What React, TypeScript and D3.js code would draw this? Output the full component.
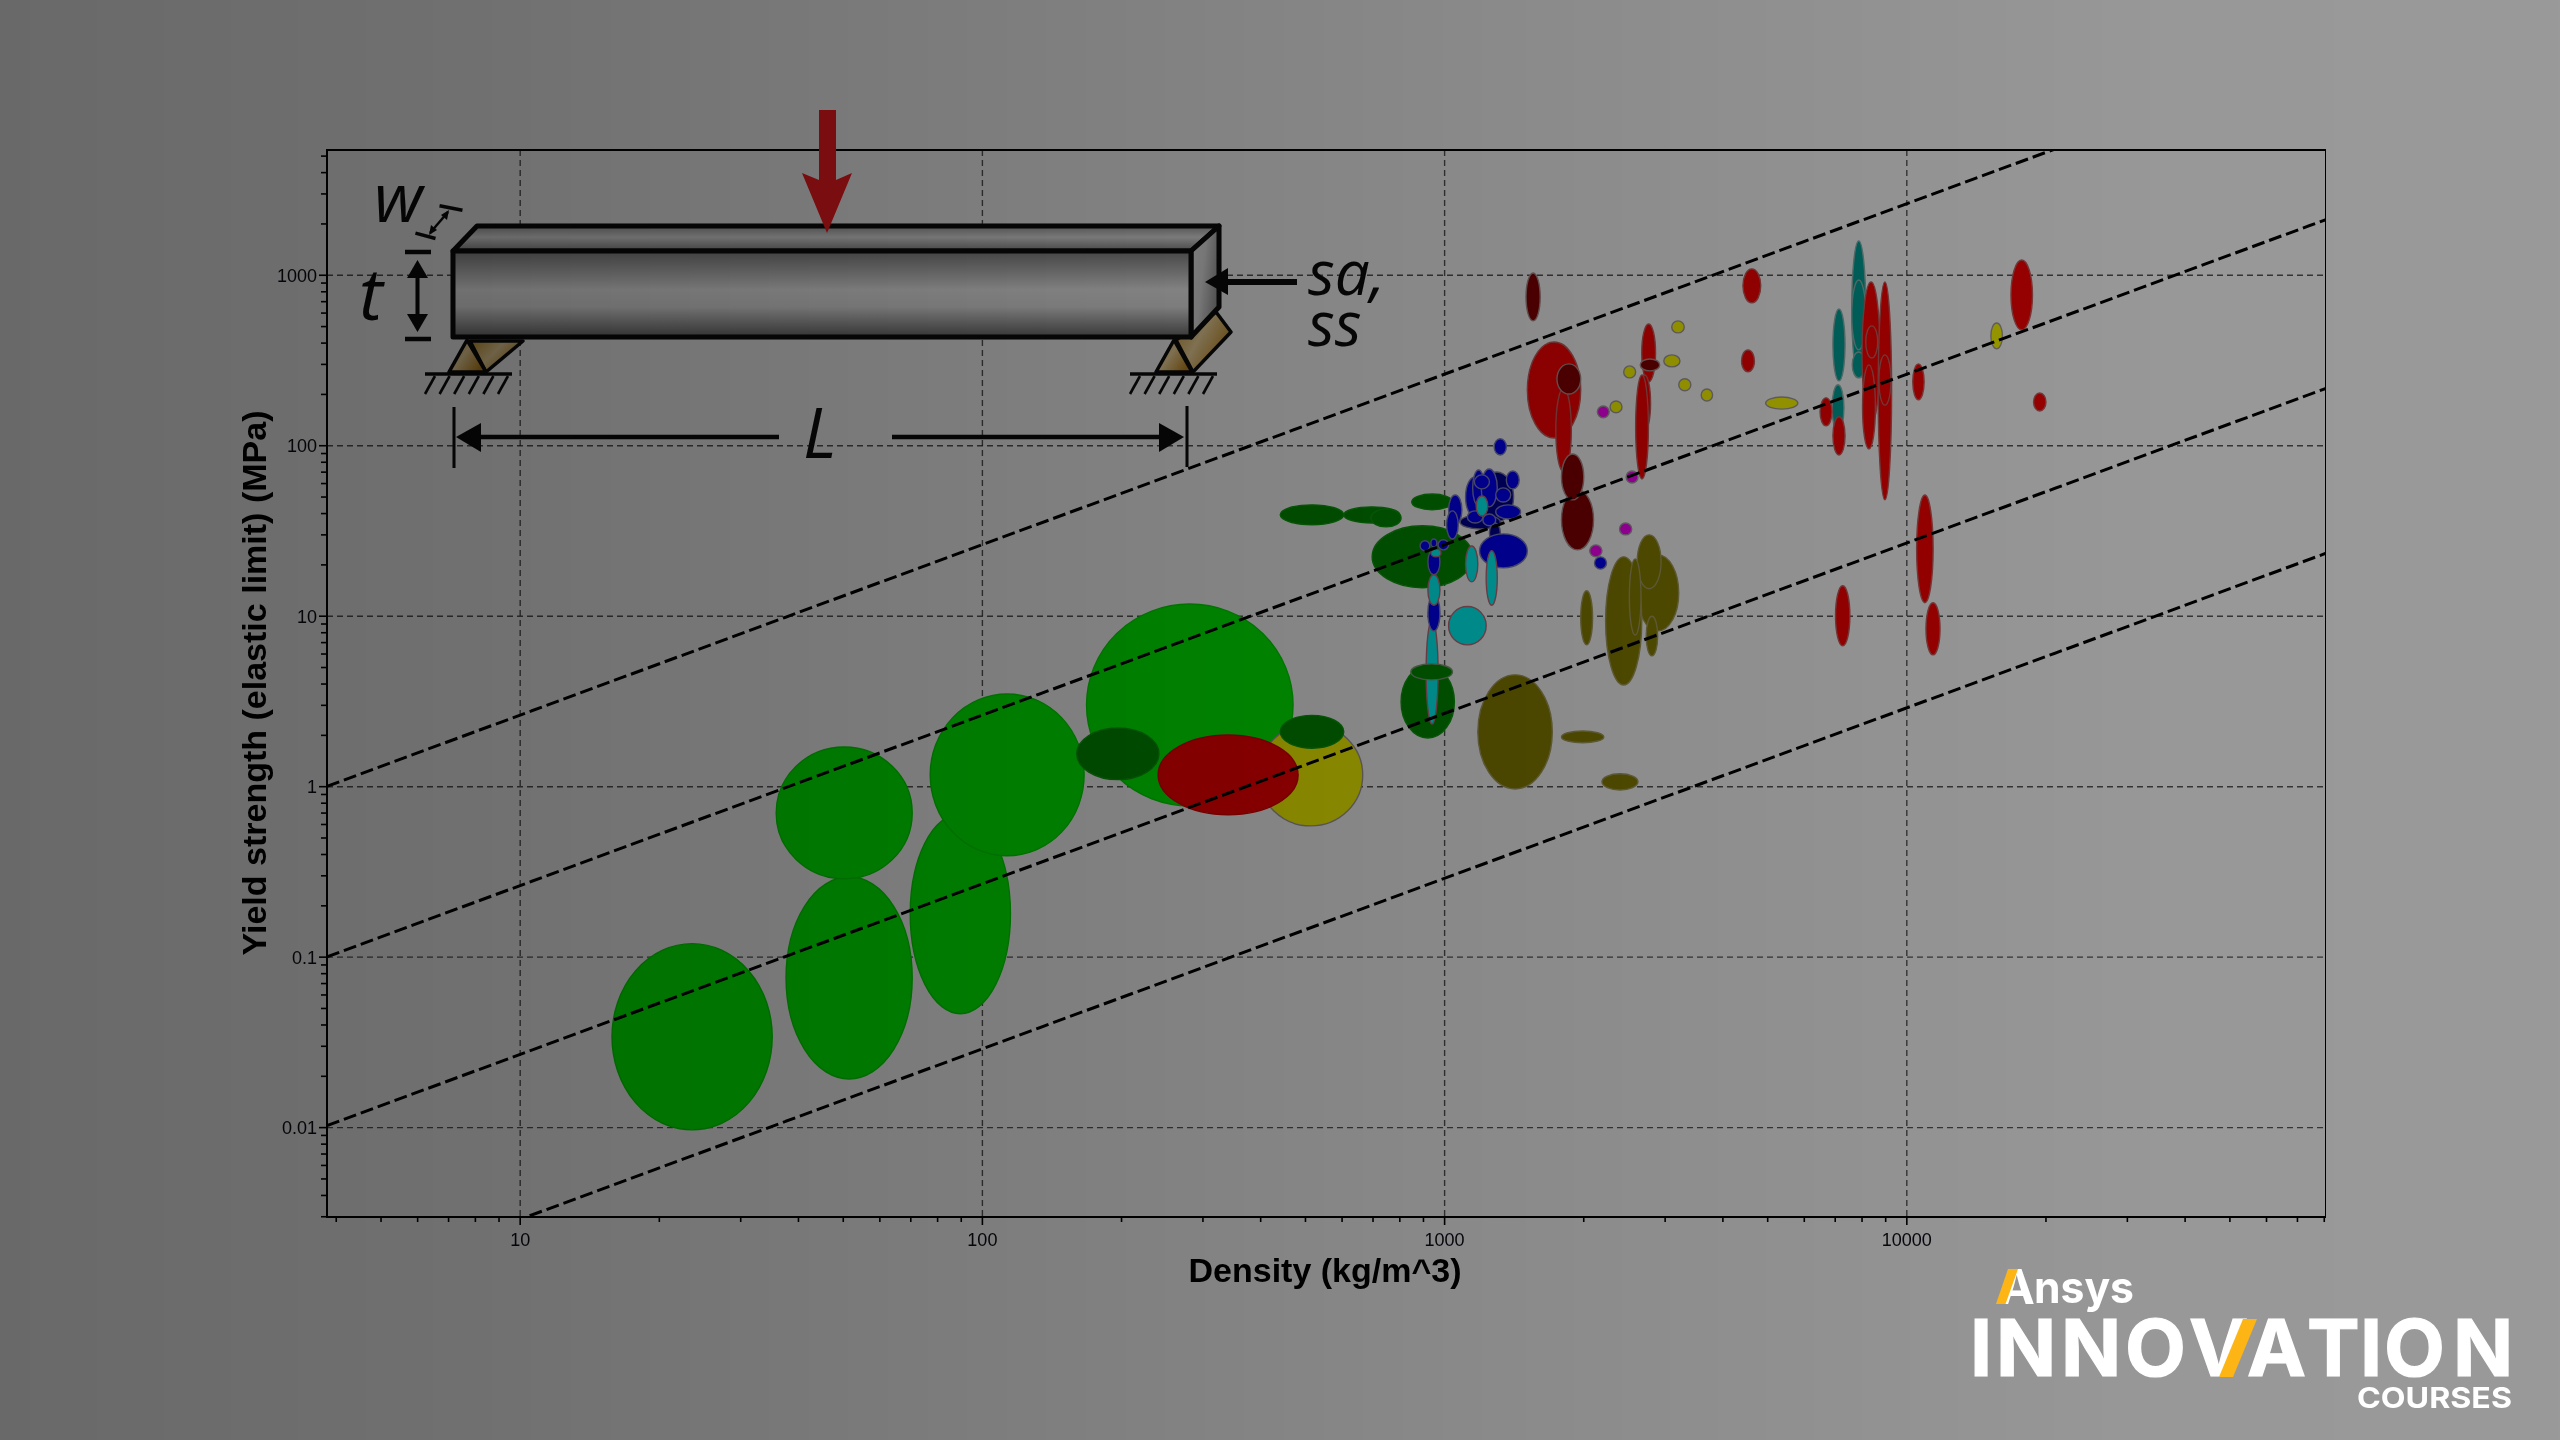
import React from "react";
import * as d3 from "d3";

// Each row: density low, density high (kg/m^3), yield strength low, high (MPa)
type Row = [number, number, number, number];

const foamsLight: Row[] = [
  [15.8, 35.1, 0.0097, 0.12],
  [37.6, 70.5, 0.0193, 0.296],
  [35.8, 70.5, 0.288, 1.71],
  [69.8, 115, 0.0466, 0.693],
  [77.1, 166, 0.393, 3.5],
  [168, 470, 0.771, 11.8],
];
const yellowLarge: Row[] = [[396, 665, 0.589, 2.33]];
const darkGreen: Row[] = [
  [160, 241, 1.1, 2.21],
  [441, 605, 1.68, 2.62],
  [441, 605, 34.4, 45],
  [605, 800, 35.2, 43.8],
  [693, 805, 33.4, 42.6],
  [849, 1040, 42.1, 52.1],
  [697, 1150, 14.7, 33.9],
  [805, 1050, 1.93, 5.12],
];
const redLarge: Row[] = [[240, 482, 0.684, 2.01]];
const olive: Row[] = [
  [1180, 1710, 0.97, 4.53],
  [1790, 2210, 1.81, 2.12],
  [2190, 2620, 0.957, 1.19],
  [1970, 2090, 6.79, 14.1],
  [2610, 3210, 8.2, 22.9],
  [2230, 2670, 3.95, 22.3],
  [2610, 2940, 14.5, 30],
  [2510, 2660, 7.76, 21.7],
  [2730, 2890, 5.85, 10],
];
const cyanLong: Row[] = [[912, 968, 2.33, 9.51]];
const darkGreenTop: Row[] = [[845, 1040, 4.23, 5.25]];
const navy: Row[] = [
  [1190, 1410, 35.7, 70.2],
  [1080, 1320, 32.5, 39.3],
  [1250, 1320, 26.9, 35.2],
];
const blue: Row[] = [
  [1110, 1220, 38.2, 65.6],
  [1150, 1220, 44.4, 72.1],
  [1200, 1300, 43.8, 73.1],
  [1160, 1250, 55.8, 67.5],
  [1360, 1450, 55.8, 71.1],
  [1290, 1390, 46.8, 56.6],
  [1290, 1460, 37.2, 45],
  [1120, 1210, 35.2, 41.5],
  [1210, 1290, 33.9, 39.8],
  [1020, 1090, 34.4, 51.4],
  [1010, 1070, 28.4, 41.5],
  [1190, 1510, 19.2, 30.4],
  [1280, 1360, 88.3, 110],
  [2110, 2240, 18.9, 22.3],
  [920, 977, 8.2, 13.3],
  [920, 977, 17.5, 24.8],
  [885, 929, 24.2, 27.7],
  [968, 1020, 24.5, 28.1],
  [934, 962, 25.5, 28.4],
];
const cyan: Row[] = [
  [1020, 1230, 6.79, 11.4],
  [920, 977, 11.6, 17.5],
  [1110, 1180, 15.9, 25.8],
  [1230, 1300, 11.6, 24.2],
  [1170, 1240, 38.7, 50.8],
  [934, 982, 22.3, 24.8],
];
const teal: Row[] = [
  [7600, 8150, 254, 1590],
  [7600, 8150, 365, 938],
  [7620, 8130, 250, 355],
  [6920, 7350, 240, 634],
  [6890, 7310, 122, 228],
];
const red: Row[] = [
  [1510, 1970, 111, 406],
  [1740, 1880, 70.2, 218],
  [2670, 2860, 237, 518],
  [2630, 2790, 122, 260],
  [2590, 2760, 63.8, 260],
  [4420, 4830, 689, 1090],
  [4390, 4680, 271, 365],
  [6490, 6890, 131, 191],
  [6920, 7350, 88.3, 148],
  [8000, 8750, 134, 914],
  [8020, 8550, 95.7, 298],
  [8150, 8650, 327, 505],
  [8670, 9270, 48.1, 914],
  [8700, 9240, 173, 341],
  [10300, 10900, 186, 302],
  [16800, 18700, 478, 1230],
  [18800, 20000, 160, 204],
  [10500, 11400, 12, 51.4],
  [7010, 7530, 6.7, 15.1],
  [11000, 11800, 5.93, 12],
];
const maroon: Row[] = [
  [1500, 1610, 540, 1030],
  [1750, 1970, 201, 302],
  [1790, 2100, 24.5, 55.1],
  [1790, 2000, 48.1, 89.5],
  [2650, 2920, 275, 323],
];
const yellowSmall: Row[] = [
  [3100, 3300, 459, 540],
  [2980, 3230, 290, 341],
  [2440, 2590, 250, 294],
  [3210, 3410, 210, 247],
  [3590, 3800, 183, 215],
  [2280, 2420, 156, 183],
  [4950, 5810, 164, 193],
  [15200, 16100, 370, 525],
];
const magenta: Row[] = [
  [2390, 2540, 30, 35.2],
  [2060, 2190, 22.3, 26.2],
  [2470, 2620, 60.5, 71.1],
  [2140, 2270, 146, 171],
];

// Performance-index guidelines: yield = c * density
const guideCoefficients = [0.263, 0.0263, 0.00269, 0.00029];

const xTickLabels = [10, 100, 1000, 10000];
const yTickLabels = [1000, 100, 10, 1, 0.1, 0.01];

const layers: { rows: Row[]; fill: string; stroke: string }[] = [
  { rows: foamsLight, fill: "#00fa00", stroke: "#00e000" },
  { rows: yellowLarge, fill: "#ffff00", stroke: "#a8a0a0" },
  { rows: darkGreen, fill: "#009000", stroke: "#10a010" },
  { rows: redLarge, fill: "#ff0000", stroke: "#e00000" },
  { rows: olive, fill: "#8a8200", stroke: "#a8a060" },
  { rows: cyanLong, fill: "#00ffff", stroke: "#c07080" },
  { rows: darkGreenTop, fill: "#009000", stroke: "#80a080" },
  { rows: navy, fill: "#00009a", stroke: "#8080a0" },
  { rows: blue, fill: "#0000ff", stroke: "#8080c0" },
  { rows: cyan, fill: "#00ffff", stroke: "#c07080" },
  { rows: teal, fill: "#00a298", stroke: "#90b8b4" },
  { rows: red, fill: "#ff0000", stroke: "#c86060" },
  { rows: maroon, fill: "#880000", stroke: "#b09090" },
  { rows: yellowSmall, fill: "#ffff00", stroke: "#a8a0a0" },
  { rows: magenta, fill: "#ff00ff", stroke: "#a8a0a8" },
];

const W = 2560;
const H = 1440;
const plot = { left: 327, right: 2326, top: 150, bottom: 1217 };

const x = d3.scaleLog().domain([3.82, 80700]).range([plot.left, plot.right]);
const y = d3.scaleLog().domain([0.00299, 5430]).range([plot.bottom, plot.top]);

const xMinor = x.ticks().filter((t) => !xTickLabels.includes(t));
const yMinor = y.ticks().filter((t) => !yTickLabels.some((l) => Math.abs(l - t) < l * 1e-6));

const guide = d3
  .line<[number, number]>()
  .x((d) => x(d[0]))
  .y((d) => y(d[1]));

const SANS = '"Liberation Sans", Arial, sans-serif';
const HAND = '"Open Sans", "Noto Sans", sans-serif';
const LOGO = 'Inter, "Open Sans", sans-serif';
const INK = "#0c0c0c";

function Hatch({ x0 }: { x0: number }) {
  return (
    <g stroke={INK} strokeWidth={2.6}>
      <line x1={x0} x2={x0 + 87} y1={374} y2={374} strokeWidth={3.5} />
      {[0, 1, 2, 3, 4, 5].map((i) => (
        <line key={i} x1={x0 + 4 + i * 14.6 + 6} y1={376} x2={x0 + 4 + i * 14.6 - 4} y2={394} />
      ))}
    </g>
  );
}

function Beam() {
  return (
    <g>
      {/* left support */}
      <polygon points="470,341 523,341 486,372" fill="url(#tan)" stroke={INK} strokeWidth={3.5} strokeLinejoin="round" />
      <polygon points="467,340 449,372 486,372" fill="url(#tan)" stroke={INK} strokeWidth={3.5} strokeLinejoin="round" />
      <Hatch x0={425} />
      {/* right support */}
      <polygon points="1216,312 1231,332 1193,372 1176,340" fill="url(#tan)" stroke={INK} strokeWidth={3.5} strokeLinejoin="round" />
      <polygon points="1174,340 1156,372 1192,372" fill="url(#tan)" stroke={INK} strokeWidth={3.5} strokeLinejoin="round" />
      <Hatch x0={1130} />
      {/* beam faces */}
      <polygon points="453,251 477,226 1219,226 1191,251" fill="url(#beamTop)" stroke={INK} strokeWidth={5} strokeLinejoin="round" />
      <polygon points="1191,251 1219,226 1219,307 1191,337" fill="url(#beamSide)" stroke={INK} strokeWidth={5} strokeLinejoin="round" />
      <rect x={453} y={251} width={738} height={86} fill="url(#beamFront)" stroke={INK} strokeWidth={5} strokeLinejoin="round" />
      {/* load arrow */}
      <polygon points="819,110 836,110 836,180 852,173 827,233 802,173 819,180" fill="#ff1a20" />
      {/* side arrow */}
      <polygon points="1205,282 1228,268 1228,279 1297,279 1297,285 1228,285 1228,295" fill={INK} />
      {/* w dimension */}
      <g stroke={INK} fill="none">
        <line x1={441} y1={202} x2={461} y2={214} strokeWidth={3.5} transform="rotate(-20 451 208)" />
        <line x1={417} y1={230} x2={434} y2={242} strokeWidth={3.5} transform="rotate(-20 425 236)" />
        <line x1={448} y1={212} x2={430} y2={233} strokeWidth={2.5} />
      </g>
      <polygon points="449,210 447,220 441,215" fill={INK} />
      <polygon points="429,235 431,225 437,230" fill={INK} />
      {/* t dimension */}
      <g stroke={INK}>
        <line x1={405} x2={431} y1={252} y2={252} strokeWidth={4.5} />
        <line x1={405} x2={431} y1={339} y2={339} strokeWidth={4.5} />
        <line x1={417.5} x2={417.5} y1={270} y2={322} strokeWidth={4} />
      </g>
      <polygon points="417.5,260 428,278 407,278" fill={INK} />
      <polygon points="417.5,332 428,314 407,314" fill={INK} />
      {/* L dimension */}
      <g stroke={INK}>
        <line x1={454} x2={454} y1={407} y2={468} strokeWidth={3} />
        <line x1={1187} x2={1187} y1={406} y2={467} strokeWidth={3} />
        <line x1={478} x2={779} y1={437} y2={437} strokeWidth={4.5} />
        <line x1={892} x2={1162} y1={437} y2={437} strokeWidth={4.5} />
      </g>
      <polygon points="456,437 481,423 481,452" fill={INK} />
      <polygon points="1184,437 1159,423 1159,452" fill={INK} />
      <g fontFamily={HAND} fontStyle="italic" fill={INK}>
        <text x={374} y={222} fontSize={68}>w</text>
        <text x={359} y={320} fontSize={72}>t</text>
        <text x={803} y={458} fontSize={70}>L</text>
        <text x={1308} y={295} fontSize={62}>sa,</text>
        <text x={1308} y={346} fontSize={62}>ss</text>
      </g>
    </g>
  );
}

function Logo() {
  return (
    <g fontFamily={LOGO} fill="#ffffff">
      <text x={1999} y={1304} fontSize={48} fontWeight={700}>A</text>
      <text x={2034} y={1303} fontSize={44} fontWeight={700} textLength={100} lengthAdjust="spacingAndGlyphs">nsys</text>
      <polygon points="1996,1304 2005.5,1304 2018,1269 2008,1269" fill="#fdb515" />
      <text
        y={1376}
        fontSize={79}
        fontWeight={700}
        stroke="#ffffff"
        strokeWidth={1.2}
        x="1970 1996 2061 2125 2189 2247 2307 2360 2384 2453"
      >INNOVATION</text>
      <polygon points="2219,1377 2233,1377 2257,1319 2243,1319" fill="#fdb515" />
      <text x={2357} y={1408} fontSize={29} fontWeight={700} textLength={155} lengthAdjust="spacingAndGlyphs">COURSES</text>
    </g>
  );
}

export default function App() {
  return (
    <svg
      width={W}
      height={H}
      viewBox={`0 0 ${W} ${H}`}
      style={{ position: "fixed", left: 0, top: 0, display: "block" }}
    >
      <defs>
        <linearGradient id="veil" x1="0" x2="1" y1="0" y2="0">
          <stop offset="0" stopColor="#000" stopOpacity={0.588} />
          <stop offset="0.1875" stopColor="#000" stopOpacity={0.56} />
          <stop offset="0.586" stopColor="#000" stopOpacity={0.459} />
          <stop offset="0.844" stopColor="#000" stopOpacity={0.405} />
          <stop offset="1" stopColor="#000" stopOpacity={0.398} />
        </linearGradient>
        <linearGradient id="beamFront" x1="0" x2="0" y1="0" y2="1">
          <stop offset="0" stopColor="#8c8c8c" />
          <stop offset="0.45" stopColor="#ffffff" />
          <stop offset="0.65" stopColor="#f4f4f4" />
          <stop offset="1" stopColor="#707070" />
        </linearGradient>
        <linearGradient id="beamTop" x1="0" x2="0" y1="0" y2="1">
          <stop offset="0" stopColor="#a8a8a8" />
          <stop offset="0.45" stopColor="#f0f0f0" />
          <stop offset="1" stopColor="#909090" />
        </linearGradient>
        <linearGradient id="beamSide" x1="0" x2="1" y1="0" y2="0.4">
          <stop offset="0" stopColor="#f8f8f8" />
          <stop offset="0.5" stopColor="#e8e8e8" />
          <stop offset="1" stopColor="#a0a0a0" />
        </linearGradient>
        <linearGradient id="tan" x1="0" x2="1" y1="0" y2="0.6">
          <stop offset="0" stopColor="#d09a30" />
          <stop offset="0.5" stopColor="#f8dca0" />
          <stop offset="1" stopColor="#c48a20" />
        </linearGradient>
        <clipPath id="plotClip">
          <rect x={plot.left} y={plot.top} width={plot.right - plot.left} height={plot.bottom - plot.top} />
        </clipPath>
        <filter id="soft" x="0" y="0" width="100%" height="100%" filterUnits="objectBoundingBox">
          <feGaussianBlur stdDeviation={0.55} />
        </filter>
      </defs>

      <rect x={0} y={0} width={W} height={H} fill="#ffffff" />

      <g filter="url(#soft)">
        {/* grid */}
        <g stroke="#222" strokeOpacity={0.75} strokeWidth={1.4} strokeDasharray="6 4">
          {xTickLabels.map((t) => (
            <line key={t} x1={x(t)} x2={x(t)} y1={plot.top} y2={plot.bottom} />
          ))}
          {yTickLabels.map((t) => (
            <line key={t} x1={plot.left} x2={plot.right} y1={y(t)} y2={y(t)} />
          ))}
        </g>

        {/* material bubbles */}
        <g clipPath="url(#plotClip)">
          {layers.map((layer, i) => (
            <g key={i} fill={layer.fill} stroke={layer.stroke} strokeWidth={1.4}>
              {layer.rows.map((r, j) => {
                const [x0, x1, y0, y1] = [x(r[0]), x(r[1]), y(r[2]), y(r[3])];
                return (
                  <ellipse
                    key={j}
                    cx={(x0 + x1) / 2}
                    cy={(y0 + y1) / 2}
                    rx={(x1 - x0) / 2}
                    ry={(y0 - y1) / 2}
                  />
                );
              })}
            </g>
          ))}

          {/* guidelines */}
          <g fill="none" stroke="#000" strokeWidth={3} strokeDasharray="13 5">
            {guideCoefficients.map((c) => (
              <path
                key={c}
                d={guide([
                  [x.domain()[0], c * x.domain()[0]],
                  [x.domain()[1], c * x.domain()[1]],
                ]) as string}
              />
            ))}
          </g>
        </g>

        {/* frame and ticks */}
        <rect
          x={plot.left}
          y={plot.top}
          width={plot.right - plot.left}
          height={plot.bottom - plot.top}
          fill="none"
          stroke="#000"
          strokeWidth={2}
        />
        <g stroke="#000" strokeWidth={1.6}>
          {xMinor.map((t) => (
            <line key={t} x1={x(t)} x2={x(t)} y1={plot.bottom} y2={plot.bottom + 5} />
          ))}
          {xTickLabels.map((t) => (
            <line key={t} x1={x(t)} x2={x(t)} y1={plot.bottom} y2={plot.bottom + 8} />
          ))}
          {yMinor.map((t) => (
            <line key={t} x1={plot.left - 6} x2={plot.left} y1={y(t)} y2={y(t)} />
          ))}
          {yTickLabels.map((t) => (
            <line key={t} x1={plot.left - 8} x2={plot.left} y1={y(t)} y2={y(t)} />
          ))}
        </g>

        {/* tick labels */}
        <g fontFamily={SANS} fontSize={18} fill="#0a0a14">
          {xTickLabels.map((t) => (
            <text key={t} x={x(t)} y={1246} textAnchor="middle">{t}</text>
          ))}
          {yTickLabels.map((t) => (
            <text key={t} x={317} y={y(t) + 6.5} textAnchor="end">{t}</text>
          ))}
        </g>

        {/* axis titles */}
        <g fontFamily={SANS} fontWeight={700} fill="#000">
          <text x={1325} y={1282} fontSize={33} textAnchor="middle" textLength={273} lengthAdjust="spacingAndGlyphs">Density (kg/m^3)</text>
          <text
            transform="translate(266 683) rotate(-90)"
            fontSize={33}
            textAnchor="middle"
            textLength={545}
            lengthAdjust="spacingAndGlyphs"
          >Yield strength (elastic limit) (MPa)</text>
        </g>

        <Beam />
      </g>

      {/* darkening veil over the whole slide */}
      <rect x={0} y={0} width={W} height={H} fill="url(#veil)" />

      <Logo />
    </svg>
  );
}
